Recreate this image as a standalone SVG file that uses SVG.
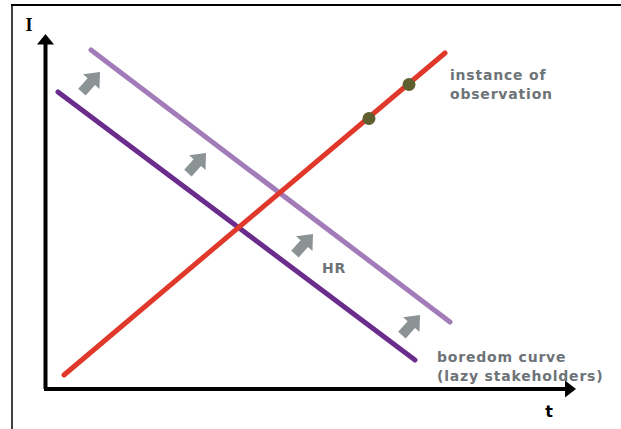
<svg xmlns="http://www.w3.org/2000/svg" width="621" height="429" viewBox="0 0 621 429">
<style>
.lbl{font-family:"DejaVu Sans",Verdana,sans-serif;font-weight:bold;font-size:14px;fill:#6d7377;letter-spacing:0.8px}
.curve{fill:none;stroke-width:5;stroke-linecap:round}
.push{fill:#8c9394}
.obs{fill:#5f5f2f}
</style>
<defs>
<path id="blk" d="M -27 -5 L -13 -5 L -13 -11 L 0 0 L -13 11 L -13 5 L -27 5 Z"/>
</defs>
<rect width="621" height="429" fill="#fff"/>
<g id="frame" stroke="#000" fill="none">
<line x1="11" y1="5" x2="621" y2="5" stroke-width="2"/>
<line x1="12" y1="4" x2="12" y2="429" stroke-width="1.5"/>
</g>
<g id="axes">
<path d="M45.5 389 V42 M44 389 H567" stroke="#000" stroke-width="4" fill="none"/>
<path d="M45.5 34 L37 44.5 L54 44.5 Z" fill="#000"/>
<path d="M576 389 L565 380.5 L565 397.5 Z" fill="#000"/>
<text x="29" y="31" font-family="Liberation Serif,serif" font-weight="bold" font-size="18" text-anchor="middle">I</text>
<text x="549" y="417" font-family="DejaVu Sans,sans-serif" font-weight="bold" font-size="16" text-anchor="middle">t</text>
</g>
<g id="connectors">
<line class="curve" x1="91" y1="50" x2="450" y2="322" stroke="#a27cb8"/>
<line class="curve" x1="58" y1="92" x2="415" y2="360" stroke="#6b2d8c"/>
<line class="curve" x1="64" y1="375" x2="445" y2="53" stroke="#e0392b"/>
</g>
<g id="observations">
<circle class="obs" cx="369" cy="118.5" r="6.5"/>
<circle class="obs" cx="409" cy="84.5" r="6.5"/>
</g>
<g id="pushes">
<use href="#blk" class="push" transform="translate(100 72) rotate(-48)"/>
<use href="#blk" class="push" transform="translate(206 153) rotate(-48)"/>
<use href="#blk" class="push" transform="translate(313 234) rotate(-48)"/>
<use href="#blk" class="push" transform="translate(420 315) rotate(-48)"/>
</g>
<g id="label-observation">
<text class="lbl" x="450" y="80">instance of</text>
<text class="lbl" x="450" y="99">observation</text>
</g>
<g id="label-hr">
<text class="lbl" x="322" y="273">HR</text>
</g>
<g id="label-boredom">
<text class="lbl" x="437" y="362">boredom curve</text>
<text class="lbl" x="437" y="381">(lazy stakeholders)</text>
</g>
</svg>
